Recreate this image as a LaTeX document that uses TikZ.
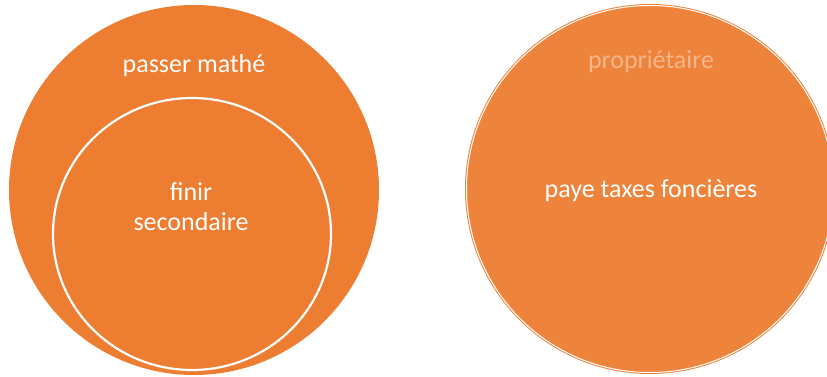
\documentclass[tikz,border=0pt]{standalone}
\usepackage{fontspec}
\setmainfont{Carlito}
\definecolor{orangeA}{HTML}{ED7D31}
\definecolor{orangeB}{HTML}{EE843C}
\definecolor{paleText}{HTML}{F5B68C}
\tikzset{
  blob/.style={fill=orangeA},
  label/.style={text=white, font=\fontsize{26}{30}\selectfont, align=center, anchor=base, inner sep=0pt}
}
\begin{document}
\begin{tikzpicture}[x=1pt, y=-1pt]
      \useasboundingbox (0, 0) rectangle (827, 377);
      \clip (0, 0) rectangle (827, 377);
      % left set with its subset
      \fill[blob] (194, 190) circle [radius=185];
      \draw[blob, draw=white, line width=2.2pt] (192, 234) ellipse [x radius=139, y radius=136];
      \node[label] (outer) at (194, 73) {passer mathé};
      \node[label] (inner) at (191, 230) {finir\\secondaire};
      % right set
      \fill[orangeB] (650, 189) circle [radius=185];
      \draw[white, line width=1pt] (650, 189) circle [radius=183.5];
      \node[label, text=paleText] (owner) at (651, 69) {propriétaire};
      \node[label] (taxes) at (651, 197) {paye taxes foncières};
    \end{tikzpicture}
\end{document}
